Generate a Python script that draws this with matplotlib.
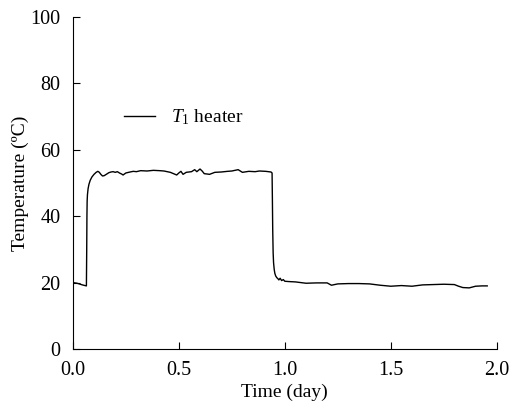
"""
Heater temperature over two days.
"""
import matplotlib
matplotlib.use("Agg")
import matplotlib.pyplot as plt

time_day = [0.0, 0.02, 0.045, 0.064, 0.0655, 0.0665, 0.0675, 0.069, 0.072, 0.076,
            0.082, 0.09, 0.1, 0.11, 0.118, 0.125, 0.132, 0.14, 0.148, 0.158,
            0.17, 0.18, 0.19, 0.2, 0.21, 0.22, 0.23, 0.237, 0.25, 0.27,
            0.285, 0.3, 0.32, 0.35, 0.38, 0.41, 0.43, 0.46, 0.49, 0.5,
            0.51, 0.52, 0.535, 0.56, 0.575, 0.585, 0.6, 0.61, 0.62, 0.645,
            0.67, 0.7, 0.73, 0.75, 0.78, 0.8, 0.83, 0.86, 0.88, 0.91,
            0.935, 0.94, 0.9415, 0.943, 0.945, 0.947, 0.95, 0.953, 0.957, 0.962,
            0.967, 0.972, 0.978, 0.985, 0.993, 1.0, 1.02, 1.05, 1.1, 1.15,
            1.2, 1.22, 1.25, 1.3, 1.35, 1.4, 1.45, 1.5, 1.55, 1.6,
            1.65, 1.7, 1.75, 1.8, 1.82, 1.84, 1.87, 1.9, 1.93, 1.955]
temp_c = [20.0, 19.8, 19.3, 19.0, 30.0, 40.0, 44.5, 46.5, 48.3, 49.6,
          50.8, 51.8, 52.6, 53.2, 53.5, 53.2, 52.6, 52.1, 52.2, 52.6,
          53.1, 53.3, 53.4, 53.2, 53.4, 53.0, 52.7, 52.4, 53.0, 53.3,
          53.5, 53.4, 53.7, 53.6, 53.8, 53.7, 53.6, 53.2, 52.4, 53.0,
          53.5, 52.6, 53.2, 53.4, 54.0, 53.4, 54.2, 53.6, 52.8, 52.6,
          53.2, 53.3, 53.5, 53.6, 54.0, 53.2, 53.5, 53.4, 53.6, 53.5,
          53.3, 53.0, 45.0, 36.0, 29.0, 26.0, 24.0, 22.8, 22.0, 21.5,
          21.2, 20.8, 21.3, 20.6, 20.9, 20.4, 20.3, 20.2, 19.8, 19.9,
          19.9, 19.2, 19.6, 19.7, 19.7, 19.6, 19.2, 18.9, 19.1, 18.9,
          19.3, 19.4, 19.5, 19.4, 18.9, 18.5, 18.4, 18.9, 19.0, 19.0]

x_ticks = [0.0, 0.5, 1.0, 1.5, 2.0]
y_ticks = [0, 20, 40, 60, 80, 100]

plt.rcParams["font.family"] = "Liberation Serif"
plt.rcParams["mathtext.fontset"] = "custom"
plt.rcParams["mathtext.it"] = "Liberation Serif:italic"
plt.rcParams["mathtext.rm"] = "Liberation Serif"

fig = plt.figure(figsize=(5.24, 4.13), dpi=100)
ax = fig.add_axes([0.139, 0.155, 0.809, 0.804])

ax.plot(time_day, temp_c, color="black", linewidth=1.0, label=r"$T_1$ heater")

ax.set_xlim(0, 2.0)
ax.set_ylim(0, 100)
ax.set_xticks(x_ticks)
ax.set_xticklabels([f"{v:.1f}" for v in x_ticks])
ax.set_yticks(y_ticks)
ax.spines["top"].set_visible(False)
ax.spines["right"].set_visible(False)
ax.tick_params(direction="in", length=5, labelsize=14.5)
ax.tick_params(axis="x", pad=9)
ax.tick_params(axis="y", pad=9)
ax.set_xlabel("Time (day)", fontsize=14, labelpad=2)
ax.set_ylabel("Temperature (ºC)", fontsize=14, labelpad=1)

ax.legend(loc="upper left", bbox_to_anchor=(0.08, 0.78), frameon=False,
          fontsize=14, handlelength=1.6, handletextpad=0.8)

fig.savefig("out.png", dpi=100)
